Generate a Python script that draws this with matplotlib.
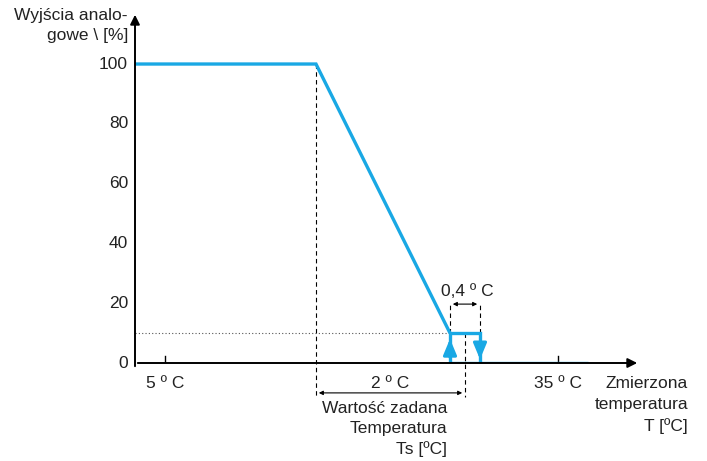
import matplotlib.pyplot as plt

# schematic x units (0 = y axis), y in percent
y_ticks = [0, 20, 40, 60, 80, 100]
x_ticks = [30, 423]
x_tick_labels = ["5 º C", "35 º C"]
curve_x = [0, 181, 315]
curve_y = [100, 100, 10]
hyst_x = [315, 345]
hyst_y = [0, 10]
x_line_end = 453
ts_x = 330
bp_x = 181

BLUE = "#19a8e4"
TXT = "#222222"
FS = 12.5


def plot_graph():
    plt.rcParams['font.family'] = ['Liberation Sans', 'DejaVu Sans']
    fig = plt.figure(figsize=(7.07, 4.61), dpi=100)
    ax = fig.add_axes([135 / 707, 98 / 461, 505 / 707, 351 / 461])
    ax.set_xlim(0, 505)
    ax.set_ylim(0, 117.4)
    ax.axis("off")

    # axes with arrows
    ax.annotate("", xy=(505, 0), xytext=(0, 0),
                arrowprops=dict(arrowstyle="-|>", color="black", lw=1.4,
                                mutation_scale=14), annotation_clip=False)
    ax.annotate("", xy=(0, 117.4), xytext=(0, -2),
                arrowprops=dict(arrowstyle="-|>", color="black", lw=1.4,
                                mutation_scale=14), annotation_clip=False)

    # y tick labels
    for v in y_ticks:
        ax.text(-7, v, str(v), ha="right", va="center", fontsize=FS, color=TXT)

    # x ticks
    for xt, lab in zip(x_ticks, x_tick_labels):
        ax.plot([xt, xt], [-2.5, 2.5], color="black", lw=1)
        ax.text(xt, -4.5, lab, ha="center", va="top", fontsize=FS, color=TXT)

    # guide lines
    ax.plot([0, curve_x[-1]], [hyst_y[1], hyst_y[1]], color="#555555",
            lw=0.8, ls=(0, (1, 2)))
    ax.plot([bp_x, bp_x], [100, -11.5], color="black", lw=0.8, ls=(0, (4, 3)),
            clip_on=False)
    ax.plot([ts_x, ts_x], [hyst_y[1], -11.5], color="black", lw=0.8,
            ls=(0, (4, 3)), clip_on=False)
    for hx in hyst_x:
        ax.plot([hx, hx], [hyst_y[1], 20], color="black", lw=0.8,
                ls=(0, (4, 3)))

    # dimension arrows
    ax.annotate("", xy=(hyst_x[1], 19.7), xytext=(hyst_x[0], 19.7),
                arrowprops=dict(arrowstyle="<|-|>", color="black", lw=0.8,
                                mutation_scale=6))
    ax.text(sum(hyst_x) / 2 + 2, 21.5, "0,4 º C", ha="center", va="bottom",
            fontsize=FS, color=TXT)
    ax.annotate("", xy=(ts_x, -10), xytext=(bp_x, -10),
                arrowprops=dict(arrowstyle="<|-|>", color="black", lw=0.8,
                                mutation_scale=6), annotation_clip=False)
    ax.text((bp_x + ts_x) / 2, -4.5, "2 º C", ha="center", va="top",
            fontsize=FS, color=TXT)

    # blue curve
    ax.plot(curve_x, curve_y, color=BLUE, lw=2.4, solid_capstyle="butt",
            solid_joinstyle="miter")
    ax.plot([hyst_x[0], hyst_x[0], hyst_x[1], hyst_x[1]],
            [hyst_y[0], hyst_y[1], hyst_y[1], hyst_y[0]], color=BLUE, lw=2.4,
            solid_joinstyle="miter")
    ax.plot([hyst_x[0], x_line_end], [0, 0], color=BLUE, lw=2.4,
            solid_capstyle="butt")
    ax.annotate("", xy=(hyst_x[0], 9.0), xytext=(hyst_x[0], 1),
                arrowprops=dict(arrowstyle="-|>,head_length=0.6,head_width=0.25",
                                color=BLUE, lw=2.2, mutation_scale=16))
    ax.annotate("", xy=(hyst_x[1], 0.3), xytext=(hyst_x[1], 8),
                arrowprops=dict(arrowstyle="-|>,head_length=0.6,head_width=0.25",
                                color=BLUE, lw=2.2, mutation_scale=16))

    # axis titles
    fig.text(128 / 707, 1 - 8 / 461, "Wyjścia analo-\ngowe \\ [%]",
             ha="right", va="top", fontsize=FS, color=TXT, linespacing=1.4)
    fig.text(688 / 707, 1 - 376 / 461, "Zmierzona\ntemperatura\nT [ºC]",
             ha="right", va="top", fontsize=FS, color=TXT, linespacing=1.5)
    fig.text(447 / 707, 1 - 401 / 461, "Wartość zadana\nTemperatura\nTs [ºC]",
             ha="right", va="top", fontsize=FS, color=TXT, linespacing=1.4)

    fig.savefig("out.png", dpi=100)


if __name__ == '__main__':
    plot_graph()
